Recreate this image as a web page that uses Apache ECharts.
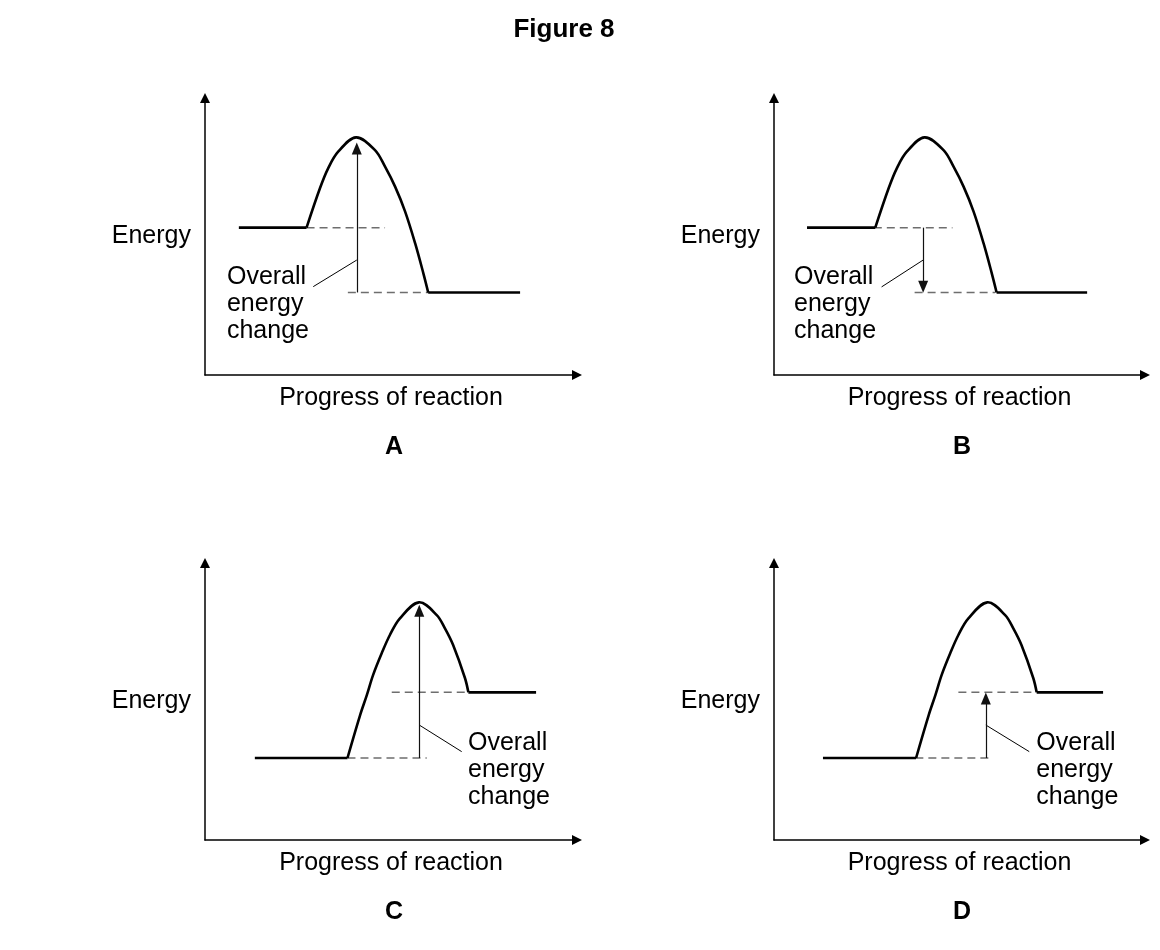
<!DOCTYPE html>
<html>
<head>
<meta charset="utf-8">
<script src="https://cdn.jsdelivr.net/npm/echarts@6/dist/echarts.min.js"></script>
<style>
html,body{margin:0;padding:0;background:#fff;}
#chart{width:1160px;height:950px;}
</style>
</head>
<body>
<div id="chart"></div>
<script>
// ---------- texts ----------
const figureTitle = 'Figure 8';
const panelLetters = ['A', 'B', 'C', 'D'];
const xAxisName = 'Progress of reaction';
const yAxisName = 'Energy';
const annotationText = 'Overall\nenergy\nchange';

// ---------- curve shapes (progress of reaction, energy) ----------
// exothermic-type hump (panels A, B)
const exoProgress = [27.3, 30.9, 33.1, 35.8, 40.6, 45.7, 48.4, 51.1, 53.8, 56.5, 58.7, 60.0];
const exoEnergy   = [53.2, 67.4, 74.6, 80.6, 85.8, 81.2, 75.2, 68.0, 59.0, 47.5, 36.7, 29.8];
// endothermic-type hump (panels C, D)
const endoProgress = [38.3, 41.7, 43.5, 45.2, 47.5, 49.7, 52.4, 57.5, 62.3, 64.5, 66.7, 69.9, 70.8];
const endoEnergy   = [29.6, 45.1, 52.3, 59.6, 67.4, 74.0, 80.0, 85.8, 81.2, 76.4, 70.4, 58.4, 53.3];

// ---------- per-panel values (A, B, C, D) ----------
const curveType       = ['exo', 'exo', 'endo', 'endo'];
const reactantEnergy  = [53.2, 53.2, 29.6, 29.6];
const productEnergy   = [29.8, 29.8, 53.3, 53.3];
const reactantStartX  = [9.1, 8.9, 13.4, 13.2];
const productEndX     = [84.7, 84.4, 89.0, 88.7];
const reactantGuideX  = [[27.3, 48.4], [26.9, 48.1], [38.3, 59.6], [38.1, 59.0]];
const productGuideX   = [[38.4, 60.0], [37.9, 59.6], [50.2, 70.8], [49.7, 70.8]];
const arrowX          = [40.8, 40.2, 57.6, 57.1];
const arrowFrom       = [29.8, 53.2, 29.6, 29.6];
const arrowTo         = [81.8, 31.9, 82.8, 51.1];
const leaderOuter     = [[29.1, 31.9], [29.0, 31.8], [69.0, 31.9], [68.8, 31.9]];
const leaderArrowY    = [41.5, 41.5, 41.5, 41.5];
const annotationPos   = [[5.9, 25.6], [5.4, 25.6], [70.7, 25.2], [70.7, 25.2]];

// ---------- layout ----------
const FONT = "'Liberation Sans', Arial, Helvetica, sans-serif";
const gridBoxes = [
  {left: 205, top: 98, width: 372, height: 277},
  {left: 774, top: 98, width: 371, height: 277},
  {left: 205, top: 563, width: 372, height: 277},
  {left: 774, top: 563, width: 371, height: 277}
];
const letterPos = [[394, 447], [962, 447], [394, 912], [962, 912]];

const zip = (xs, ys) => xs.map((x, i) => [x, ys[i]]);

const grids = [], xAxes = [], yAxes = [], series = [];

gridBoxes.forEach((g, i) => {
  grids.push(Object.assign({containLabel: false}, g));
  const axisLine = {
    show: true, onZero: false,
    symbol: ['none', 'triangle'], symbolSize: [10, 10],
    lineStyle: {color: '#000', width: 1.5}
  };
  xAxes.push({
    type: 'value', gridIndex: i, min: 0, max: 100,
    axisLine: axisLine, axisTick: {show: false}, axisLabel: {show: false}, splitLine: {show: false},
    name: xAxisName, nameLocation: 'middle', nameGap: 11,
    nameTextStyle: {fontSize: 25, color: '#000', fontFamily: FONT}
  });
  yAxes.push({
    type: 'value', gridIndex: i, min: 0, max: 100,
    axisLine: axisLine, axisTick: {show: false}, axisLabel: {show: false}, splitLine: {show: false},
    name: yAxisName, nameLocation: 'middle', nameRotate: 0, nameGap: 14,
    nameTextStyle: {fontSize: 25, color: '#000', fontFamily: FONT, padding: [0, 0, 6, 0]}
  });

  const base = {xAxisIndex: i, yAxisIndex: i, showSymbol: false, symbol: 'none', silent: true, animation: false, z: 3};
  const cx = curveType[i] === 'exo' ? exoProgress : endoProgress;
  const cy = curveType[i] === 'exo' ? exoEnergy : endoEnergy;
  const humpData = zip(cx, cy);
  const thick = {color: '#000', width: 2.6};
  const dashed = {color: '#6e6e6e', width: 1.5, type: [8, 5]};

  // dashed guide lines
  series.push(Object.assign({}, base, {
    type: 'line', z: 2,
    data: [[reactantGuideX[i][0], reactantEnergy[i]], [reactantGuideX[i][1], reactantEnergy[i]]],
    lineStyle: dashed
  }));
  series.push(Object.assign({}, base, {
    type: 'line', z: 2,
    data: [[productGuideX[i][0], productEnergy[i]], [productGuideX[i][1], productEnergy[i]]],
    lineStyle: dashed
  }));
  // reactant plateau
  series.push(Object.assign({}, base, {
    type: 'line',
    data: [[reactantStartX[i], reactantEnergy[i]], [cx[0], reactantEnergy[i]]],
    lineStyle: thick
  }));
  // hump: one smooth path through the read points, mapped via the axes
  series.push({
    type: 'custom', xAxisIndex: i, yAxisIndex: i, silent: true, animation: false, z: 3,
    coordinateSystem: 'cartesian2d',
    data: humpData,
    encode: {x: 0, y: 1},
    renderItem: function (params, api) {
      if (params.dataIndex !== 0) return null;
      const pts = humpData.map(d => api.coord(d));
      return {
        type: 'polyline',
        shape: {points: pts, smooth: 0.35},
        style: {stroke: '#000', lineWidth: 2.6, fill: 'none', lineJoin: 'round'}
      };
    }
  });
  // product plateau
  series.push(Object.assign({}, base, {
    type: 'line',
    data: [[cx[cx.length - 1], productEnergy[i]], [productEndX[i], productEnergy[i]]],
    lineStyle: thick
  }));
  // leader line from annotation to arrow, plus the energy-change arrow
  series.push(Object.assign({}, base, {
    type: 'line',
    data: [leaderOuter[i], [arrowX[i], leaderArrowY[i]]],
    lineStyle: {color: '#000', width: 1},
    markLine: {
      silent: true, animation: false,
      symbol: ['none', 'triangle'], symbolSize: [10, 12],
      label: {show: false},
      lineStyle: {color: '#111', width: 1.2, type: 'solid'},
      emphasis: {disabled: true},
      data: [[{coord: [arrowX[i], arrowFrom[i]]}, {coord: [arrowX[i], arrowTo[i]]}]]
    }
  }));
});

const chart = echarts.init(document.getElementById('chart'), null, {renderer: 'canvas'});
chart.setOption({
  backgroundColor: '#fff',
  animation: false,
  grid: grids,
  xAxis: xAxes,
  yAxis: yAxes,
  series: series
});

// text graphics: title, panel letters, and annotations placed at data coordinates
const graphics = [{
  type: 'text', silent: true,
  x: 564, y: 30,
  style: {text: figureTitle, font: 'bold 26px ' + FONT, fill: '#000', textAlign: 'center', textVerticalAlign: 'middle'}
}];
panelLetters.forEach((t, i) => {
  graphics.push({
    type: 'text', silent: true,
    x: letterPos[i][0], y: letterPos[i][1],
    style: {text: t, font: 'bold 25px ' + FONT, fill: '#000', textAlign: 'center', textVerticalAlign: 'middle'}
  });
  const p = chart.convertToPixel({gridIndex: i}, annotationPos[i]);
  graphics.push({
    type: 'text', silent: true,
    x: p[0], y: p[1],
    style: {text: annotationText, font: '25px ' + FONT, lineHeight: 27, fill: '#000', textAlign: 'left', textVerticalAlign: 'middle'}
  });
});
chart.setOption({graphic: graphics});
</script>
</body>
</html>
